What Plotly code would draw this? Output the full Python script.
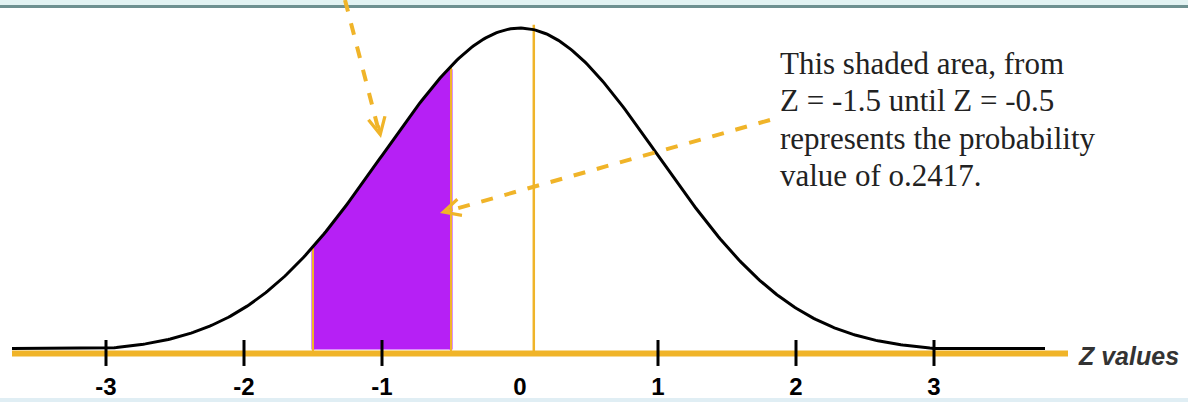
import numpy as np
import plotly.graph_objects as go

# ---- data ----
z_ticks = [-3, -2, -1, 1, 2, 3]
tick_labels = ["-3", "-2", "-1", "0", "1", "2", "3"]
tick_label_pos = [-3, -2, -1, 0, 1, 2, 3]
shade_from, shade_to = -1.5, -0.5
probability = 0.2417
text_lines = [
    "This shaded area, from",
    "Z = -1.5 until Z = -0.5",
    "represents the probability",
    "value of o.2417.",
]

ORANGE = "#f0b429"
PURPLE = "#b620f5"

def pdf(z):
    return np.exp(-0.5 * np.asarray(z) ** 2) / np.sqrt(2 * np.pi)

W, H = 1188, 402
x_px0, x_scale = 520, 138   # pixel of z=0, pixels per unit z
y_px0, y_scale = 352, 812
xr = [-x_px0 / x_scale, (W - x_px0) / x_scale]
yr = [-(H - y_px0) / y_scale, y_px0 / y_scale]
def zx(px):  # pixel -> z (for line end extents only)
    return (px - x_px0) / x_scale

fig = go.Figure()

# orange axis line
fig.add_trace(go.Scatter(x=[zx(12), zx(1068)], y=[-0.002, -0.002], mode="lines",
                         line=dict(color=ORANGE, width=6), hoverinfo="skip"))

# shaded area
zs = np.linspace(shade_from, shade_to, 60)
fig.add_trace(go.Scatter(x=np.concatenate([[shade_from], zs, [shade_to]]),
                         y=np.concatenate([[0.003], pdf(zs) - 0.004, [0.003]]),
                         mode="lines", fill="toself", fillcolor=PURPLE,
                         line=dict(color=PURPLE, width=3), hoverinfo="skip"))
# orange edge lines
for zb in [shade_from, shade_to]:
    fig.add_trace(go.Scatter(x=[zb, zb], y=[0, float(pdf(zb))], mode="lines",
                             line=dict(color=ORANGE, width=2), hoverinfo="skip"))

# vertical line at z=0
fig.add_trace(go.Scatter(x=[0.1, 0.1], y=[0, float(pdf(0)) + 0.004], mode="lines",
                         line=dict(color=ORANGE, width=2.5), hoverinfo="skip"))

# normal curve with flat tails
zc = np.linspace(-3, 3, 400)
xc = np.concatenate([[zx(12)], zc, [zx(1045)]])
yc = np.concatenate([[pdf(-3)], pdf(zc), [pdf(3)]])
fig.add_trace(go.Scatter(x=xc, y=yc, mode="lines",
                         line=dict(color="black", width=3), hoverinfo="skip"))

# tick marks
for t in z_ticks:
    fig.add_trace(go.Scatter(x=[t, t], y=[0.0148, -0.0172], mode="lines",
                             line=dict(color="black", width=3), hoverinfo="skip"))

# tick labels
fig.add_trace(go.Scatter(x=tick_label_pos, y=[-0.045] * len(tick_label_pos),
                         mode="text", text=tick_labels,
                         textfont=dict(family="Liberation Sans", size=24, color="black",
                                       weight="bold"),
                         hoverinfo="skip"))

shapes = [
    dict(type="rect", xref="paper", yref="paper", x0=0, x1=1, y0=1 - 5 / H, y1=1,
         fillcolor="#e2f2f2", line_width=0, layer="below"),
    dict(type="line", xref="paper", yref="paper", x0=0, x1=1, y0=1 - 6.5 / H, y1=1 - 6.5 / H,
         line=dict(color="#6e9090", width=3)),
    dict(type="rect", xref="paper", yref="paper", x0=0, x1=1, y0=0, y1=4 / H,
         fillcolor="#e0eef4", line_width=0, layer="below"),
    # dashed arrow shafts (pixel positions expressed in paper coords)
    dict(type="line", xref="paper", yref="paper", x0=345 / W, y0=1, x1=378 / W, y1=1 - 128 / H,
         line=dict(color=ORANGE, width=4, dash="dash")),
    dict(type="line", xref="paper", yref="paper", x0=770 / W, y0=1 - 120 / H, x1=448 / W,
         y1=1 - 211 / H, line=dict(color=ORANGE, width=4, dash="dash")),
]

annotations = []
# arrow heads
annotations.append(dict(xref="paper", yref="paper", x=381 / W, y=1 - 138 / H,
                        ax=-3, ay=-14, showarrow=True,
                        arrowhead=5, arrowsize=1.1, arrowwidth=3, arrowcolor=ORANGE, text=""))
annotations.append(dict(xref="paper", yref="paper", x=440 / W, y=1 - 213 / H,
                        ax=14, ay=-4, showarrow=True,
                        arrowhead=5, arrowsize=1.1, arrowwidth=3, arrowcolor=ORANGE, text=""))
# explanatory text
for i, line in enumerate(text_lines):
    annotations.append(dict(xref="paper", yref="paper", x=778 / W, y=1 - (63 + 37.5 * i) / H,
                            xanchor="left", yanchor="middle", showarrow=False, text=line,
                            font=dict(family="Liberation Serif", size=31, color="#222222")))
annotations.append(dict(xref="paper", yref="paper", x=1076 / W, y=1 - 356 / H,
                        xanchor="left", yanchor="middle", showarrow=False,
                        text="<i><b>Z values</b></i>",
                        font=dict(family="Liberation Sans", size=25, color="#333333")))

fig.update_layout(
    width=W, height=H, margin=dict(l=0, r=0, t=0, b=0),
    paper_bgcolor="white", plot_bgcolor="white", showlegend=False,
    xaxis=dict(range=xr, visible=False, fixedrange=True),
    yaxis=dict(range=yr, visible=False, fixedrange=True),
    shapes=shapes, annotations=annotations,
)

fig.write_html("out.html", config={"displayModeBar": False},
               post_script="document.body.style.margin='0';")
